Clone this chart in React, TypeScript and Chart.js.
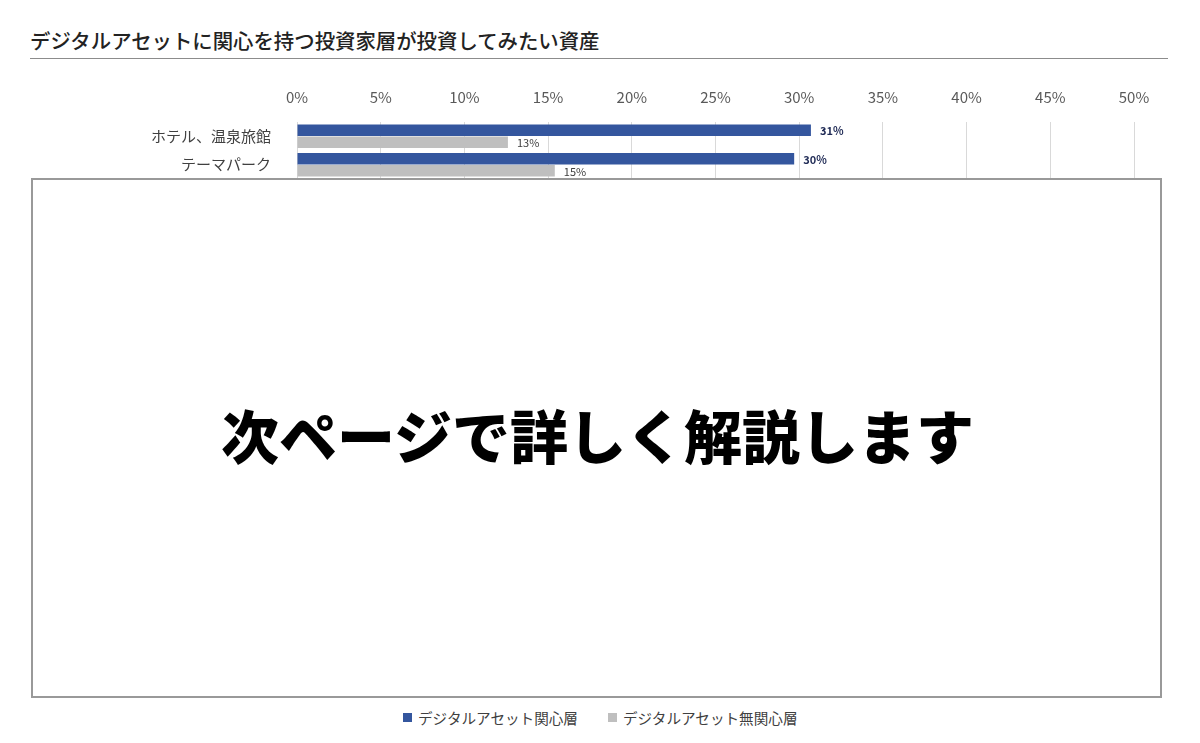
import React, { useEffect, useRef } from "react";
import { Chart, registerables } from "chart.js";

Chart.register(...registerables);

const TITLE = "デジタルアセットに関心を持つ投資家層が投資してみたい資産";
const CATEGORIES = ["ホテル、温泉旅館", "テーマパーク"];
const SERIES_NAMES = ["デジタルアセット関心層", "デジタルアセット無関心層"];
const INTERESTED = [30.7, 29.7];
const UNINTERESTED = [12.6, 15.4];
const X_MIN = 0;
const X_MAX = 50;
const X_STEP = 5;
const OVERLAY_TEXT = "次ページで詳しく解説します";
const COLORS = ["#34569e", "#bfbfbf"];

const FONT = '"Noto Sans CJK JP", "Noto Sans", sans-serif';

const valueLabels = {
  id: "valueLabels",
  afterDatasetsDraw(chart: any) {
    const ctx = chart.ctx;
    chart.data.datasets.forEach((ds: any, i: number) => {
      const meta = chart.getDatasetMeta(i);
      meta.data.forEach((el: any, j: number) => {
        const v = ds.data[j];
        ctx.save();
        ctx.font = i === 0 ? `bold 11px ${FONT}` : `11px ${FONT}`;
        ctx.fillStyle = i === 0 ? "#1f2a55" : "#404040";
        ctx.textBaseline = "middle";
        ctx.textAlign = "left";
        ctx.fillText(Math.round(v) + "%", el.x + 9, el.y + 1);
        ctx.restore();
      });
    });
  },
};

export default function App() {
  const canvasRef = useRef<HTMLCanvasElement>(null);

  useEffect(() => {
    if (!canvasRef.current) return;
    const chart = new Chart(canvasRef.current, {
      type: "bar",
      data: {
        labels: CATEGORIES,
        datasets: [
          {
            label: SERIES_NAMES[0],
            data: INTERESTED,
            backgroundColor: COLORS[0],
            categoryPercentage: 0.84,
            barPercentage: 0.96,
          },
          {
            label: SERIES_NAMES[1],
            data: UNINTERESTED,
            backgroundColor: COLORS[1],
            categoryPercentage: 0.84,
            barPercentage: 0.96,
          },
        ],
      },
      options: {
        indexAxis: "y",
        responsive: true,
        maintainAspectRatio: false,
        animation: false,
        layout: { padding: { left: 0, right: 66, top: 0, bottom: 0 } },
        plugins: {
          legend: { display: false },
          tooltip: { enabled: false },
          title: { display: false },
        },
        scales: {
          x: {
            position: "top",
            min: X_MIN,
            max: X_MAX,
            ticks: {
              stepSize: X_STEP,
              callback: (v: any) => v + "%",
              font: { family: FONT, size: 15 },
              color: "#595959",
              padding: 16,
            },
            grid: { color: "#d9d9d9", drawTicks: false },
            border: { display: false },
            afterFit: (scale: any) => {
              scale.height = 42;
            },
          },
          y: {
            ticks: {
              font: { family: FONT, size: 15 },
              color: "#404040",
              padding: 18,
              autoSkip: false,
            },
            grid: { display: false },
            border: { display: false },
            afterFit: (scale: any) => {
              scale.width = 297;
            },
          },
        },
      } as any,
      plugins: [valueLabels],
    });
    return () => chart.destroy();
  }, []);

  return (
    <div
      style={{
        position: "absolute",
        left: 0,
        top: 0,
        width: 1200,
        height: 743,
        background: "#ffffff",
        fontFamily: FONT,
        overflow: "hidden",
      }}
    >
      <div
        style={{
          position: "absolute",
          left: 30,
          top: 27,
          fontSize: 20.4,
          lineHeight: "26px",
          fontWeight: 500,
          color: "#222222",
          whiteSpace: "nowrap",
        }}
      >
        {TITLE}
      </div>
      <div
        style={{
          position: "absolute",
          left: 30,
          top: 58,
          width: 1138,
          height: 1,
          background: "#8c8c8c",
        }}
      />
      <div style={{ position: "absolute", left: 0, top: 80, width: 1200, height: 126 }}>
        <canvas ref={canvasRef} />
      </div>
      <div
        style={{
          position: "absolute",
          left: 31,
          top: 178,
          width: 1127,
          height: 516,
          border: "2px solid #999999",
          background: "#ffffff",
          display: "flex",
          alignItems: "center",
          justifyContent: "center",
        }}
      >
        <div
          style={{
            fontSize: 58,
            fontWeight: 900,
            color: "#000000",
            whiteSpace: "nowrap",
            marginTop: -8,
            marginLeft: 2,
          }}
        >
          {OVERLAY_TEXT}
        </div>
      </div>
      <div
        style={{
          position: "absolute",
          left: 403,
          top: 706,
          height: 22,
          display: "flex",
          alignItems: "center",
          fontSize: 14.6,
          color: "#404040",
          whiteSpace: "nowrap",
        }}
      >
        {SERIES_NAMES.map((name, i) => (
          <div
            key={name}
            style={{ display: "flex", alignItems: "center", marginRight: i === 0 ? 30 : 0 }}
          >
            <span
              style={{
                display: "inline-block",
                width: 9,
                height: 9,
                background: COLORS[i],
                marginRight: 6,
              }}
            />
            <span>{name}</span>
          </div>
        ))}
      </div>
    </div>
  );
}
